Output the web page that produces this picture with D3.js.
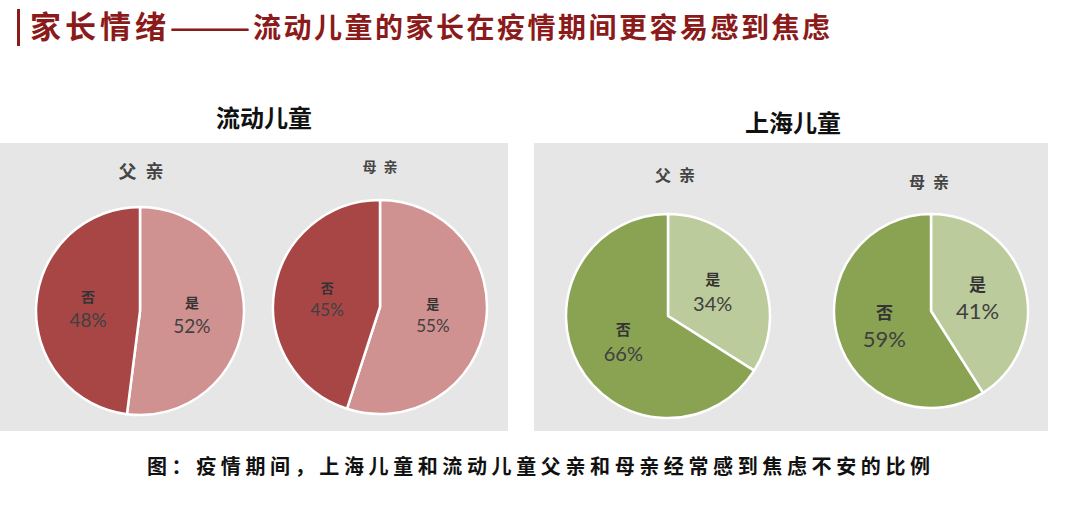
<!DOCTYPE html>
<html><head><meta charset="utf-8">
<script src="https://cdn.jsdelivr.net/npm/d3@7"></script>
<style>
html,body{margin:0;padding:0;background:#fff;}
svg{display:block;}
</style></head>
<body>
<svg id="chart" width="1080" height="522"></svg>
<script>
// ---- data ----
const titleParts = ["家长情绪", "——", "流动儿童的家长在疫情期间更容易感到焦虑"];
const caption = "图：疫情期间，上海儿童和流动儿童父亲和母亲经常感到焦虑不安的比例";
const groups = ["流动儿童", "上海儿童"];
const parents = ["父亲", "母亲"];
const categories = ["是", "否"];
const migrantValues = [[52, 48], [55, 45]];   // 父亲, 母亲 : 是, 否
const shanghaiValues = [[34, 66], [41, 59]];
const migrantColors = ["#d09191", "#a84646"];
const shanghaiColors = ["#bccb9b", "#89a353"];

// ---- layout ----
const svg = d3.select("#chart");
const cjk = "'Noto Sans CJK SC', 'Noto Sans', sans-serif";
const num = "Lato, 'Open Sans', sans-serif";
const titleRed = "#8b1a1a";

// title
svg.append("rect").attr("x", 17).attr("y", 9).attr("width", 3).attr("height", 37).attr("fill", titleRed);
const titleSpans = [{x: 30, w: 136, fs: 31}, {x: 169, w: 82, fs: 28}, {x: 253, w: 577, fs: 28}];
titleParts.forEach((t, i) => {
  const s = titleSpans[i];
  const el = svg.append("text").attr("font-family", cjk).attr("font-size", s.fs).attr("font-weight", 700)
    .attr("fill", titleRed).text(t);
  if (i === 1) {
    el.attr("x", 0).attr("y", 0);
    const bw = el.node().getComputedTextLength();
    el.attr("transform", `translate(${s.x},38) scale(${s.w / bw},1)`);
  } else {
    el.attr("x", s.x).attr("y", 38).attr("textLength", s.w).attr("lengthAdjust", "spacing");
  }
});

const panels = [
  {x: 0, y: 143, w: 508, h: 288, tx: 264, ty: 127, values: migrantValues, colors: migrantColors,
   pies: [{cx: 140, cy: 311, r: 104, lx: 141, ly: 178, ls: 18, ps: 19, cs: 14},
          {cx: 380, cy: 307, r: 107, lx: 380, ly: 172, ls: 14, ps: 17, cs: 13}]},
  {x: 534, y: 143, w: 514, h: 288, tx: 793, ty: 132, values: shanghaiValues, colors: shanghaiColors,
   pies: [{cx: 668, cy: 316, r: 102, lx: 675, ly: 181, ls: 16, ps: 20, cs: 15},
          {cx: 931, cy: 311, r: 97, lx: 929, ly: 188, ls: 16, ps: 22, cs: 17}]}
];

const pie = d3.pie().sort(null).value(d => d);

panels.forEach((p, gi) => {
  svg.append("rect").attr("x", p.x).attr("y", p.y).attr("width", p.w).attr("height", p.h).attr("fill", "#e6e6e6");
  svg.append("text").attr("x", p.tx).attr("y", p.ty).attr("text-anchor", "middle")
    .attr("font-family", cjk).attr("font-size", 24).attr("font-weight", 700).attr("fill", "#111")
    .text(groups[gi]);

  p.pies.forEach((pp, pi) => {
    const vals = p.values[pi];
    const arcs = pie(vals);
    const arc = d3.arc().innerRadius(0).outerRadius(pp.r);
    const labelArc = d3.arc().innerRadius(pp.r * 0.5).outerRadius(pp.r * 0.5);
    const color = d3.scaleOrdinal().domain(categories).range(p.colors);
    const g = svg.append("g").attr("transform", `translate(${pp.cx},${pp.cy})`);
    g.selectAll("path").data(arcs).join("path")
      .attr("d", arc).attr("fill", (d, i) => color(categories[i]))
      .attr("stroke", "#fff").attr("stroke-width", 2.5).attr("stroke-linejoin", "round");
    g.selectAll("g.lbl").data(arcs).join("g").attr("class", "lbl")
      .attr("transform", d => `translate(${labelArc.centroid(d)})`)
      .each(function(d, i) {
        const t = d3.select(this);
        t.append("text").attr("text-anchor", "middle").attr("y", -6)
          .attr("font-family", cjk).attr("font-size", pp.cs).attr("font-weight", 700).attr("fill", "#333")
          .text(categories[i]);
        t.append("text").attr("text-anchor", "middle").attr("y", pp.ps)
          .attr("font-family", num).attr("font-size", pp.ps).attr("fill", "#404040")
          .text(d.data + "%");
      });
    const lbl = svg.append("text").attr("x", pp.lx).attr("y", pp.ly).attr("text-anchor", "middle")
      .attr("font-family", cjk).attr("font-size", pp.ls).attr("font-weight", 700).attr("fill", "#444")
      .text(parents[pi]);
    lbl.attr("textLength", pp.ls * 2.5).attr("lengthAdjust", "spacing");
  });
});

svg.append("text").attr("x", 147).attr("y", 474)
  .attr("font-family", cjk).attr("font-size", 20).attr("font-weight", 700).attr("fill", "#111")
  .attr("textLength", 783).attr("lengthAdjust", "spacing")
  .text(caption);
</script>
</body></html>
